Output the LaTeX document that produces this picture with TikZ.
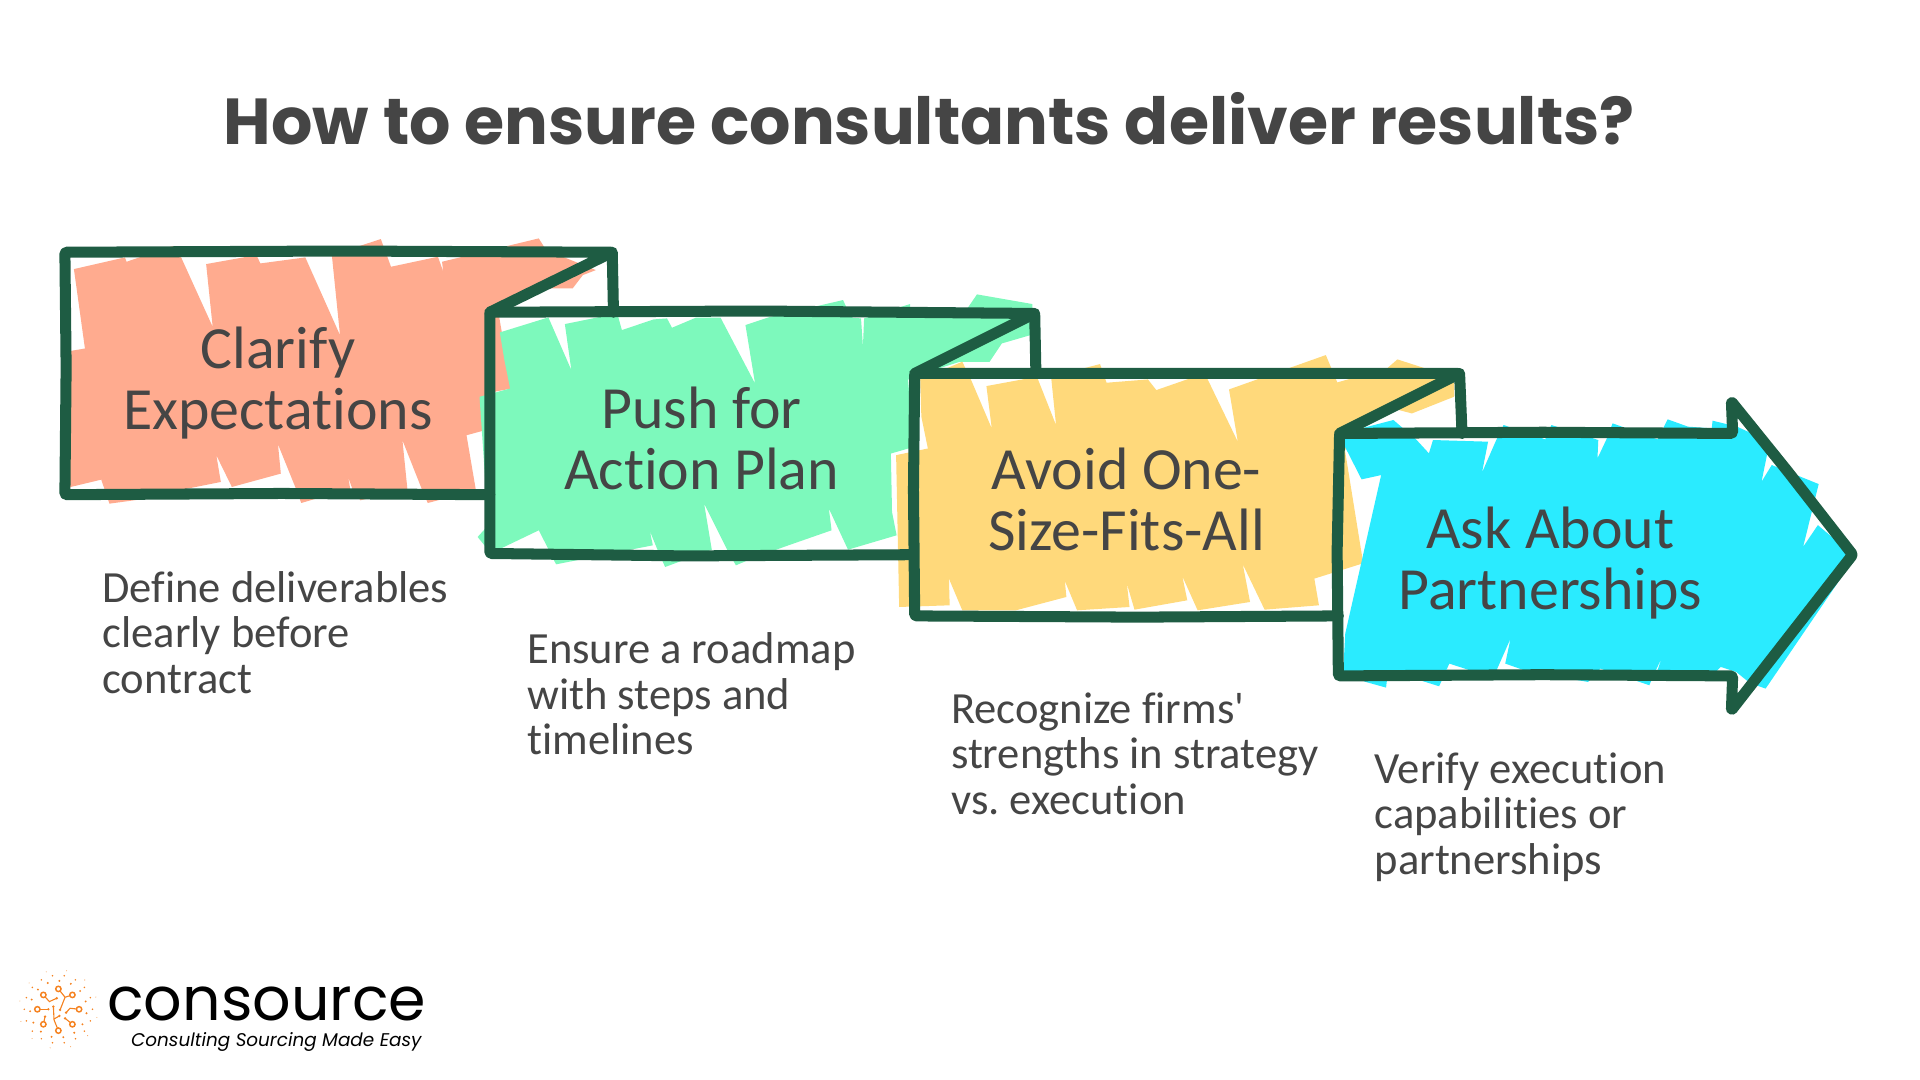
\documentclass[tikz,border=0pt]{standalone}
\usepackage{fontspec}
\setmainfont[Ligatures=NoCommon]{Carlito}
\newfontfamily\headfont{Poppins}
\usepackage{tikz}
\definecolor{framegreen}{HTML}{1E5C43}
\definecolor{inkgray}{HTML}{454545}
\definecolor{salmonfill}{HTML}{FFAB8F}
\definecolor{mintfill}{HTML}{7DF9BC}
\definecolor{sandfill}{HTML}{FFD97B}
\definecolor{cyanfill}{HTML}{2AEBFF}
\definecolor{logoorange}{HTML}{F58220}

\begin{document}
\begin{tikzpicture}[x=.01cm,y=-.01cm]
            \tikzstyle{frame}=[framegreen,line width=.09cm,line join=round,line cap=round,rounded corners=.3pt]
            \tikzstyle{boxlabel}=[inkgray,align=center,font=\fontsize{13.9}{14.2}\selectfont,inner sep=0pt]
            \tikzstyle{caption}=[inkgray,align=left,anchor=north west,font=\frenchspacing\fontsize{10.35}{10.55}\selectfont,inner sep=0pt]
            \tikzstyle{logoring}=[logoorange,line width=.012cm,fill=white]
            \tikzstyle{logotrace}=[logoorange,line width=.009cm]

            \useasboundingbox (0,0) rectangle (1568,882);

            % title
            \node[inkgray,inner sep=0pt,font=\headfont\bfseries\fontsize{15.1}{16}\selectfont] (title) at (759,97) {How to ensure consultants deliver results?};

            % first box fill
            \begin{scope}[shift={(32.7,179.7)},xscale=.3333,yscale=.2725]
                \fill[salmonfill] (83,147) -- (208,112) -- (212,125) -- (325,78) -- (345,110) -- (423,320) -- (407,132) -- (530,105) -- (540,130) -- (650,112) -- (735,345) -- (715,105) -- (835,57) -- (860,140) -- (975,110) -- (988,155) -- (985,125) -- (1222,55) -- (1240,90) -- (1362,150) -- (1330,165) -- (1305,205) -- (1230,205) -- (1180,240) -- (1125,290) -- (1155,505) -- (1090,520) -- (1090,630) -- (1045,645) -- (1068,810) -- (950,848) -- (935,805) -- (888,660) -- (900,805) -- (785,840) -- (765,805) -- (755,770) -- (760,805) -- (640,848) -- (627,805) -- (583,672) -- (590,760) -- (470,800) -- (432,705) -- (443,785) -- (320,815) -- (287,808) -- (273,685) -- (290,830) -- (170,850) -- (150,778) -- (75,800) -- (62,803) -- (62,395) -- (110,385) -- cycle;
            \end{scope}

            % second box fill
            \begin{scope}[shift={(383.8,228.7)},xscale=.3125,yscale=.2725]
                \fill[mintfill] (78,157) -- (205,112) -- (265,270) -- (248,132) -- (385,100) -- (397,150) -- (480,118) -- (515,115) -- (528,143) -- (590,113) -- (655,113) -- (745,310) -- (720,135) -- (780,112) -- (975,60) -- (985,85) -- (1000,113) -- (1022,115) -- (1027,200) -- (1030,115) -- (1150,72) -- (1150,85) -- (1300,85) -- (1325,43) -- (1470,72) -- (1470,100) -- (1465,165) -- (1390,190) -- (1358,245) -- (1280,245) -- (1225,265) -- (1165,260) -- (1145,300) -- (1160,500) -- (1100,520) -- (1103,695) -- (1115,765) -- (988,808) -- (938,685) -- (945,750) -- (820,800) -- (730,838) -- (695,855) -- (672,808) -- (612,670) -- (632,808) -- (510,860) -- (490,808) -- (470,752) -- (478,795) -- (225,852) -- (180,750) -- (80,805) -- (45,805) -- (20,770) -- (40,745) -- (40,600) -- (25,350) -- (105,325) -- (90,240) -- cycle;
            \end{scope}

            % third box fill
            \begin{scope}[shift={(718.7,277.7)},xscale=.3125,yscale=.2725]
                \fill[sandfill] (105,118) -- (215,65) -- (240,125) -- (292,265) -- (278,138) -- (410,110) -- (460,255) -- (447,110) -- (575,72) -- (592,128) -- (700,118) -- (722,150) -- (810,115) -- (855,115) -- (935,305) -- (912,148) -- (1165,45) -- (1195,127) -- (1325,85) -- (1352,58) -- (1425,85) -- (1500,115) -- (1500,170) -- (1390,220) -- (1340,205) -- (1270,255) -- (1215,330) -- (1260,650) -- (1260,670) -- (1135,715) -- (1147,795) -- (1005,808) -- (948,672) -- (967,785) -- (830,810) -- (790,708) -- (803,780) -- (665,808) -- (645,730) -- (652,800) -- (515,810) -- (483,722) -- (487,770) -- (355,810) -- (215,810) -- (180,715) -- (182,795) -- (50,800) -- (42,345) -- (125,325) -- (108,230) -- cycle;
            \end{scope}

            % fourth box fill
            \begin{scope}[shift={(1045.3,310.3)},xscale=.3333,yscale=.2725]
                \fill[cyanfill] (200,145) -- (278,120) -- (335,180) -- (365,220) -- (375,180) -- (510,185) -- (495,278) -- (530,180) -- (548,135) -- (650,178) -- (665,135) -- (780,180) -- (778,235) -- (800,178) -- (815,130) -- (925,178) -- (950,118) -- (1000,140) -- (1058,145) -- (1060,122) -- (1120,140) -- (1200,185) -- (1180,305) -- (1205,255) -- (1320,312) -- (1282,500) -- (1318,435) -- (1410,530) -- (1190,925) -- (1160,912) -- (1143,900) -- (1118,875) -- (1080,860) -- (1068,875) -- (925,870) -- (935,835) -- (920,872) -- (905,915) -- (785,865) -- (755,905) -- (610,875) -- (552,850) -- (565,775) -- (530,872) -- (470,872) -- (415,850) -- (390,918) -- (265,870) -- (260,922) -- (210,905) -- (155,875) -- (160,760) -- (248,285) -- (200,298) -- (155,190) -- (160,175) -- cycle;
            \end{scope}

            % frames
            \draw[frame] (400,404) -- (230,403) -- (53,404) -- (54,300) -- (53,206) -- (280,205) -- (500,206) -- (400,255);
            \draw[frame] (500,206) -- (501,255);
            \draw[frame] (746,453) -- (560,454) -- (400,452) -- (400,255) -- (620,254) -- (845,256) -- (747,305);
            \draw[frame] (845,256) -- (846,305);
            \draw[frame] (1093,503) -- (930,504) -- (747,503) -- (746,400) -- (747,305) -- (960,305) -- (1192,305) -- (1094,354);
            \draw[frame] (1192,305) -- (1194,354);
            \draw[frame] (1094,354) -- (1092,450) -- (1093,552) -- (1260,551) -- (1415,552) -- (1414,580) -- (1513,453) -- (1460,385) -- (1414,328) -- (1415,354) -- (1260,353) -- cycle;

            % box labels
            \node[boxlabel] (clarify) at (227,313) {Clarify\\Expectations};
            \node[boxlabel] (push) at (573,358) {Push for\\Action Plan};
            \node[boxlabel] (avoid) at (920,408) {Avoid One-\\Size-Fits-All};
            \node[boxlabel] (ask) at (1266,460) {Ask About\\Partnerships};

            % captions
            \node[caption] (define) at (83,466) {Define deliverables\\clearly before\\contract};
            \node[caption] (ensure) at (430,516) {Ensure a roadmap\\with steps and\\timelines};
            \node[caption] (recognize) at (776,565) {Recognize firms\textquotesingle\\strengths in strategy\\vs. execution};
            \node[caption] (verify) at (1122,614) {Verify execution\\capabilities or\\partnerships};

            % logo text
            \node[black,anchor=west,inner sep=0pt,font=\headfont\fontsize{14}{14}\selectfont] (brand) at (87,820) {consource};
            \node[black,anchor=east,inner sep=0pt,font=\headfont\itshape\fontsize{4.27}{5}\selectfont] (tagline) at (345,851) {Consulting Sourcing Made Easy};

            % logo mark
            \begin{scope}[shift={(8.17,788)},scale=.2725]
                \foreach \ang in {0,24,...,336} \fill[logoorange] (145,133)+(\ang+8:85) circle (3.2);
                \foreach \ang in {0,20,...,340} \fill[logoorange] (145,133)+(\ang:102) circle (2.6);
                \foreach \ang in {0,30,...,330} \fill[logoorange!70] (145,133)+(\ang+12:118) circle (1.6);
                \draw[logotrace] (100,90) -- (118,110) -- (140,100);
                \draw[logotrace] (145,72) -- (165,97);
                \draw[logotrace] (187,90) -- (165,97) -- (150,135);
                \draw[logotrace] (82,133) -- (115,133);
                \draw[logotrace] (207,133) -- (180,130) -- (168,143);
                \draw[logotrace] (100,178) -- (105,155);
                \draw[logotrace] (145,197) -- (132,165) -- (130,125);
                \draw[logotrace] (132,162) -- (148,153);
                \draw[logotrace] (187,178) -- (165,160);
                \foreach \dx/\dy in {140/100,150/135,115/133,168/143,105/155,130/125,148/153,165/160}
                    \fill[logoorange] (\dx,\dy) circle (4);
                \foreach \dx/\dy in {100/90,145/72,187/90,82/133,207/133,100/178,145/197,187/178}
                    \draw[logoring] (\dx,\dy) circle (8);
            \end{scope}
        \end{tikzpicture}
\end{document}
